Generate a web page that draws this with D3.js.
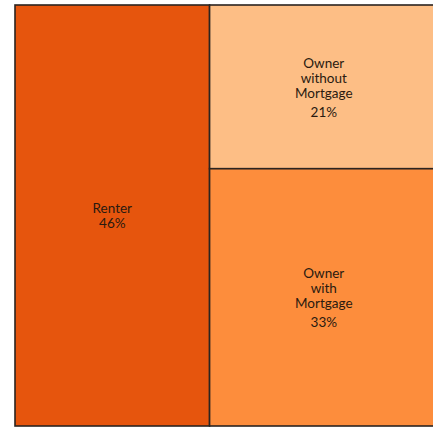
<!DOCTYPE html>
<html>
<head>
<meta charset="utf-8">
<script src="https://cdn.jsdelivr.net/npm/d3@7"></script>
<style>
  body { margin: 0; background: #fff; }
  svg { display: block; }
  .label { font-family: Lato, "DejaVu Sans", sans-serif; font-size: 13.5px; fill: #2a1a10; }
</style>
</head>
<body>
<svg id="chart" width="433" height="427"></svg>
<script>
// tenure categories and their shares (%)
const groups = ["Renter", "Owner"];
const categories = ["Renter", "Owner without Mortgage", "Owner with Mortgage"];
const parents = ["Renter", "Owner", "Owner"];
const shares = [46, 21, 33];
const labelLines = [["Renter"], ["Owner", "without", "Mortgage"], ["Owner", "with", "Mortgage"]];
const colors = ["#e6550d", "#fdbe85", "#fd8d3c"];

const svg = d3.select("#chart");
const margin = { top: 5, left: 15 };
const width = 423, height = 421;

const tree = {
    name: "root",
    children: groups.map(g => ({
        name: g,
        children: categories
            .map((c, i) => ({ name: c, value: shares[i], idx: i, parent: parents[i] }))
            .filter(d => d.parent === g)
    }))
};
// renter is a single leaf, not a group
tree.children[0] = tree.children[0].children[0];

const root = d3.hierarchy(tree).sum(d => d.value || 0);
d3.treemap()
    .tile(d3.treemapSliceDice)
    .size([width, height])
    .round(false)(root);

const g = svg.append("g").attr("transform", `translate(${margin.left},${margin.top})`);

const cells = g.selectAll(".cell")
    .data(root.leaves())
    .join("g")
    .attr("class", "cell");

cells.append("rect")
    .attr("x", d => d.x0)
    .attr("y", d => d.y0)
    .attr("width", d => d.x1 - d.x0)
    .attr("height", d => d.y1 - d.y0)
    .attr("fill", d => colors[d.data.idx])
    .attr("stroke", "#2b2420")
    .attr("stroke-width", 1.6);

const lineH = 15;
cells.each(function(d) {
    const lines = labelLines[d.data.idx];
    const cx = (d.x0 + d.x1) / 2;
    const cy = (d.y0 + d.y1) / 2;
    // block height: name lines + extra gap for percent
    const n = lines.length;
    const gap = n > 1 ? 19 : lineH;
    const total = (n - 1) * lineH + gap;
    const top = cy - total / 2;
    const t = d3.select(this).append("text")
        .attr("class", "label")
        .attr("text-anchor", "middle");
    lines.forEach((s, i) => {
        t.append("tspan")
            .attr("x", cx)
            .attr("y", top + i * lineH)
            .attr("dy", "0.4em")
            .text(s);
    });
    t.append("tspan")
        .attr("x", cx)
        .attr("y", top + (n - 1) * lineH + gap)
        .attr("dy", "0.4em")
        .text(shares[d.data.idx] + "%");
});
</script>
</body>
</html>
